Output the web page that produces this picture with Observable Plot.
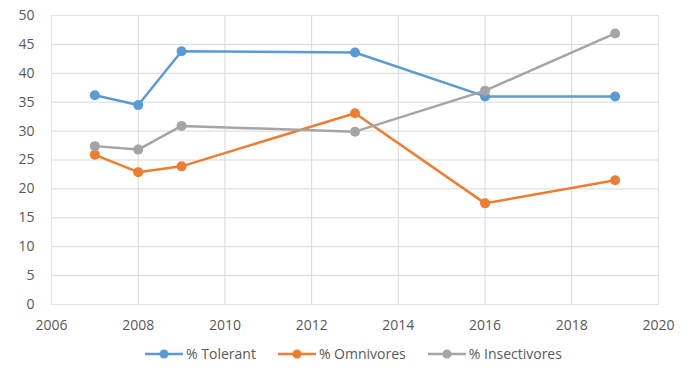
<!DOCTYPE html>
<html><head><meta charset="utf-8">
<script src="https://cdn.jsdelivr.net/npm/d3@7"></script>
<script src="https://cdn.jsdelivr.net/npm/@observablehq/plot@0.6"></script>
<style>
body{margin:0;background:#fff;font-family:"Open Sans",Calibri,sans-serif;}
#legend{display:flex;justify-content:center;gap:22px;font-size:14px;color:#595959;margin-left:8px;margin-top:4px}
#legend span{display:flex;align-items:center;gap:3px}
</style>
</head><body>
<div id="chart"></div>
<div id="legend"></div>
<script>
const years = [2007, 2008, 2009, 2013, 2016, 2019];
const tolerant = [36.2, 34.5, 43.8, 43.6, 36.0, 36.0];
const omnivores = [25.9, 22.9, 23.9, 33.1, 17.5, 21.5];
const insectivores = [27.4, 26.8, 30.9, 29.9, 37.0, 46.9];
const seriesNames = ["% Tolerant", "% Omnivores", "% Insectivores"];
const seriesColors = ["#5B9BD5", "#ED7D31", "#A5A5A5"];
const xTicks = [2006, 2008, 2010, 2012, 2014, 2016, 2018, 2020];
const yTicks = [0, 5, 10, 15, 20, 25, 30, 35, 40, 45, 50];

const allSeries = [tolerant, omnivores, insectivores];
const data = [];
allSeries.forEach((vals, si) => years.forEach((yr, i) => data.push({year: yr, value: vals[i], series: seriesNames[si]})));

const chart = Plot.plot({
  width: 699,
  height: 340,
  marginLeft: 51,
  marginRight: 41,
  marginTop: 15,
  marginBottom: 36,
  style: {fontFamily: '"Open Sans", sans-serif', fontSize: "14px", color: "#595959"},
  x: {domain: [2006, 2020], ticks: xTicks, tickFormat: d => String(d), tickSize: 0, tickPadding: 16, label: null},
  y: {domain: [0, 50], ticks: yTicks, tickSize: 0, tickPadding: 17, label: null},
  color: {domain: seriesNames, range: seriesColors},
  marks: [
    Plot.gridY(yTicks, {stroke: "#d9d9d9", strokeOpacity: 1, strokeWidth: 1}),
    Plot.gridX(xTicks, {stroke: "#d9d9d9", strokeOpacity: 1, strokeWidth: 1}),
    Plot.frame({stroke: "#e4e4e4"}),
    Plot.axisX({ticks: xTicks, tickFormat: d => String(d), tickSize: 0, tickPadding: 16, fill: "#595959"}),
    Plot.axisY({ticks: yTicks, tickSize: 0, tickPadding: 17, fill: "#595959"}),
    Plot.line(data, {x: "year", y: "value", z: "series", stroke: "series", strokeWidth: 2.5}),
    Plot.dot(data, {x: "year", y: "value", fill: "series", r: 5})
  ]
});
document.getElementById("chart").appendChild(chart);

const legend = document.getElementById("legend");
seriesNames.forEach((name, i) => {
  const s = document.createElement("span");
  s.innerHTML = `<svg width="38" height="12"><line x1="0" y1="6" x2="38" y2="6" stroke="${seriesColors[i]}" stroke-width="2.5"/><circle cx="19" cy="6" r="4.5" fill="${seriesColors[i]}"/></svg>${name}`;
  legend.appendChild(s);
});
</script>
</body></html>
